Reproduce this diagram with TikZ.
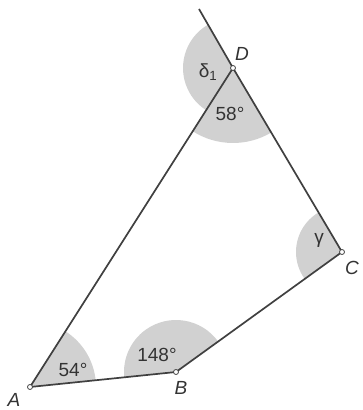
\documentclass[tikz,border=0pt]{standalone}
\usepackage{fontspec}
\setmainfont{Liberation Sans}
\begin{document}
\begin{tikzpicture}[x=1pt,y=1pt,
  edge/.style={draw=black!75,line width=1.7pt},
  sector/.style={fill=black!18},
  vtx/.style={circle,draw=black!75,fill=white,line width=0.8pt,inner sep=0pt,minimum size=5pt},
  vlab/.style={font=\fontsize{19}{22}\selectfont\itshape,text=black!80},
  alab/.style={font=\fontsize{19}{22}\selectfont,text=black!80}]
\useasboundingbox (0,0) rectangle (362,410);
\coordinate (A) at (30,23);
\coordinate (B) at (176,38);
\coordinate (C) at (342,158);
\coordinate (D) at (233,342);
\coordinate (E) at (199,401);
% sectors
\fill[sector] (A) -- +(5.87:66) arc[start angle=5.87,end angle=57.5,radius=66] -- cycle;
\fill[sector] (B) -- +(35.87:52) arc[start angle=35.87,end angle=185.87,radius=52] -- cycle;
\fill[sector] (C) -- +(120.64:46) arc[start angle=120.64,end angle=215.87,radius=46] -- cycle;
\fill[sector] (D) -- +(237.5:75) arc[start angle=237.5,end angle=300.64,radius=75] -- cycle;
\fill[sector] (D) -- +(119.95:50) arc[start angle=119.95,end angle=237.5,radius=50] -- cycle;
% edges
\draw[edge] (A) -- (B) -- (C) -- (D) -- (A);
\draw[edge] (D) -- (E);
% vertices
\node[vtx] (nA) at (A) {};
\node[vtx] (nB) at (B) {};
\node[vtx] (nC) at (C) {};
\node[vtx] (nD) at (D) {};
% labels
\node[vlab] (lA) at (14,10) {A};
\node[vlab] (lB) at (181,22) {B};
\node[vlab] (lC) at (352,142) {C};
\node[vlab] (lD) at (242,356) {D};
\node[alab] (a54) at (73,40) {54°};
\node[alab] (a148) at (157,55) {148°};
\node[alab] (a58) at (230,296) {58°};
\node[alab] (ad) at (208,338) {δ\textsubscript{1}};
\node[alab] (ag) at (319,170) {γ};
\end{tikzpicture}
\end{document}
